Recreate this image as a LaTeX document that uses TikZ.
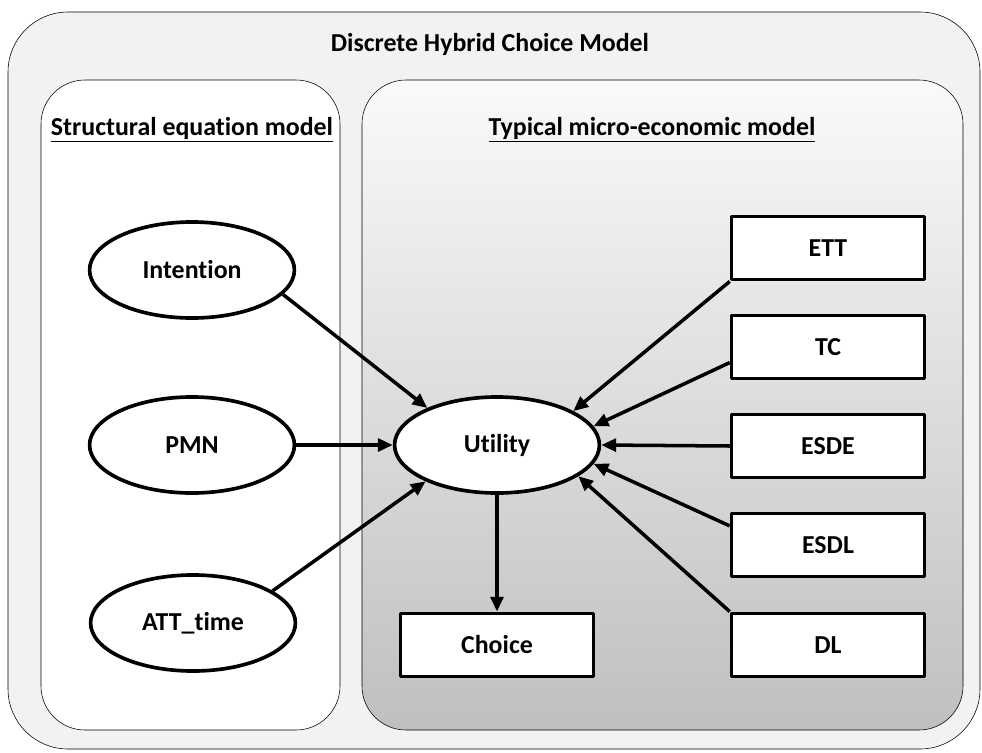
\documentclass[tikz,border=0pt]{standalone}
\usepackage{fontspec}
\setmainfont[Ligatures=NoCommon]{Carlito}
\usetikzlibrary{shapes.geometric,arrows.meta}

\begin{document}
\begin{tikzpicture}[x=0.025cm, y=-0.025cm, >={Triangle[length=0.37cm,width=0.32cm]}, font=\fontsize{18.4}{22}\selectfont\bfseries, line join=round,
	latent/.style={draw, ellipse, line width=2.6pt, fill=white, minimum width=5.12cm, minimum height=2.4cm, inner sep=0pt},
	obs/.style={draw, rectangle, line width=2.6pt, fill=white, minimum width=4.82cm, minimum height=1.58cm},
	arr/.style={->, line width=2.5pt}]
	\useasboundingbox (0,0) rectangle (982,752);
	% Rahmen
	\draw[fill=black!5, rounded corners=1.5cm] (8,12) rectangle (980,749);
	\draw[fill=white, rounded corners=1.1cm] (41,80) rectangle (340,730);
	\draw[top color=black!2, bottom color=black!25, rounded corners=1.1cm] (362,80) rectangle (963,730);
	\node (title) at (490,44) {Discrete Hybrid Choice Model};
	\node (sem) at (192,130) {\underline{Structural equation model}};
	\node (micro) at (652,130) {\underline{Typical micro-economic model}};
	
	% Knoten
	\node[latent] (int) at (192,270) {Intention};
	\node[latent] (pmn) at (192,445) {PMN};
	\node[latent] (att) at (193,623) {ATT\_time};
	\node[latent] (util) at (497,445) {Utility};
	\node[obs] (choice) at (497,645) {Choice};
	\node[obs] (ett) at (828,248) {ETT};
	\node[obs] (tc) at (828,347) {TC};
	\node[obs] (esde) at (828,446) {ESDE};
	\node[obs] (esdl) at (828,545) {ESDL};
	\node[obs] (dl) at (828,645) {DL};
	
	% Pfeile
	\draw[arr] (int.-15) -- (util.152);
	\draw[arr] (pmn.east) -- (util.west);
	\draw[arr] (att.22) -- (util.207);
	\draw[arr] (ett.south west) -- (util.24);
	\draw[arr] (tc.189) -- (util.11);
	\draw[arr] (esde.west) -- (util.east);
	\draw[arr] (esdl.169) -- (util.-11);
	\draw[arr] (dl.north west) -- (util.-21);
	\draw[arr] (util.south) -- (choice.north);
\end{tikzpicture}
\end{document}
